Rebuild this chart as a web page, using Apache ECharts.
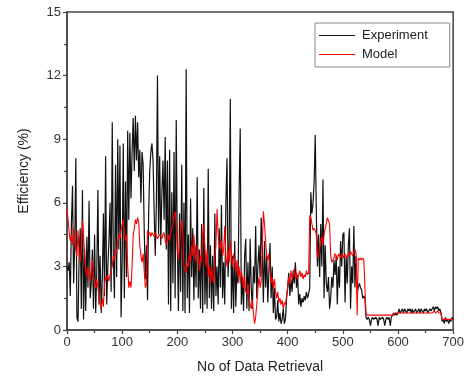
<!DOCTYPE html>
<html><head><meta charset="utf-8">
<script src="https://cdn.jsdelivr.net/npm/echarts@6/dist/echarts.min.js"></script>
<style>html,body{margin:0;padding:0;background:#fff}#c{width:467px;height:379px}</style>
</head><body><div id="c"></div>
<script>
// sample spacing along "No of Data Retrieval"
var xStep = 2;
var experiment = [
3.0,2.8,3.2,1.6,5.0,6.8,2.2,4.0,8.1,0.6,
0.4,3.5,4.8,1.0,6.6,0.5,3.8,0.9,4.4,2.0,
6.1,1.5,2.2,3.8,1.0,4.5,0.8,2.8,6.6,1.2,
3.5,0.8,2.4,5.5,1.6,8.2,1.2,3.0,4.2,6.0,
1.8,9.8,3.5,1.5,7.8,2.5,9.0,3.8,8.7,0.6,
3.2,8.8,1.5,7.0,2.5,9.4,5.2,9.3,6.2,8.4,
10.0,7.5,10.1,8.0,9.8,7.2,8.5,6.0,8.4,7.8,
4.7,2.4,4.0,1.4,5.5,7.5,8.4,8.8,8.0,5.6,
3.5,6.0,12.0,4.5,8.2,4.0,6.5,8.0,5.2,9.1,
3.8,8.0,1.2,8.5,0.9,6.5,2.2,8.4,1.5,9.9,
4.0,0.9,5.5,1.8,7.8,0.9,6.0,0.8,12.3,1.5,
4.5,0.8,6.2,2.5,4.8,1.4,4.0,2.0,7.2,1.5,
3.8,1.0,5.0,0.8,6.7,1.2,3.5,1.0,7.6,1.5,
4.0,1.0,3.5,0.9,5.5,1.6,3.0,1.2,4.8,2.0,
5.9,1.5,3.2,1.2,6.0,8.1,2.5,4.0,10.9,1.0,
3.5,0.8,4.2,1.1,3.0,2.2,6.5,9.5,1.2,2.5,
0.9,3.5,4.3,1.0,3.2,0.9,4.3,2.0,1.0,3.0,
2.2,4.9,1.5,3.0,4.0,2.5,5.3,3.8,1.3,4.2,
2.0,3.5,1.3,2.8,4.1,1.5,3.0,0.8,2.0,0.5,
0.6,1.4,0.4,0.8,0.3,0.5,1.0,0.3,0.5,1.5,
2.0,2.7,1.6,2.4,1.8,2.8,2.2,3.2,2.0,2.6,
1.2,1.7,1.1,1.5,1.3,1.6,1.4,1.8,1.5,1.7,
2.0,6.5,5.5,6.0,7.0,9.2,5.5,3.0,4.5,2.5,
5.0,3.0,7.1,1.5,4.0,2.2,1.8,2.5,1.0,1.5,
2.5,2.0,3.3,2.6,3.5,1.2,3.0,2.0,4.2,3.0,
4.5,4.6,1.3,3.5,2.2,4.0,4.8,1.0,3.0,2.2,
4.9,2.0,3.5,1.8,2.0,2.2,2.0,1.9,1.5,1.6,
1.5,0.6,0.5,0.6,0.5,0.2,0.5,0.6,0.5,0.5,
0.6,0.5,0.2,0.6,0.5,0.5,0.6,0.5,0.2,0.5,
0.6,0.5,0.6,0.2,0.6,0.7,0.8,0.7,0.8,0.7,
0.8,1.0,0.8,0.9,1.0,0.8,1.0,0.9,0.8,1.0,
0.9,1.0,0.8,1.0,0.8,0.9,1.0,0.8,0.9,1.0,
0.8,1.0,0.9,0.8,1.0,0.9,1.0,0.8,0.9,1.0,
0.9,1.0,1.1,0.9,1.1,1.0,1.1,0.9,1.0,0.8,
0.4,0.5,0.3,0.6,0.4,0.5,0.3,0.5,0.4,0.6,
0.5
];
var model = [
5.7,5.2,4.6,4.2,4.5,4.0,4.8,4.3,3.8,3.5,
4.7,3.6,3.2,3.8,5.2,4.5,3.5,2.8,2.5,3.0,
2.6,2.3,2.8,3.3,2.5,2.2,2.0,2.4,2.0,1.6,
1.2,1.0,1.5,1.1,2.2,2.5,2.4,2.6,2.3,2.6,
2.8,3.0,3.5,3.3,3.8,3.6,4.2,4.5,4.3,4.7,
5.0,5.2,4.6,4.2,4.5,3.0,2.0,2.3,2.0,3.0,
4.5,4.8,5.2,5.0,5.3,5.1,4.0,3.5,3.2,3.6,
2.8,2.0,2.2,4.7,4.5,4.6,4.4,4.6,4.5,4.4,
4.6,4.5,4.3,4.4,4.5,4.4,4.3,4.5,4.6,4.2,
4.0,4.3,4.5,4.2,4.6,4.8,5.0,5.4,5.6,5.0,
3.8,3.3,4.0,4.8,5.2,4.5,3.0,2.8,2.7,3.2,
3.0,3.6,3.2,4.0,3.5,4.5,3.8,3.2,4.0,3.5,
2.8,3.5,3.2,4.5,5.0,4.0,3.0,3.8,2.5,3.0,
2.2,3.0,2.5,2.2,3.5,4.0,5.7,4.5,4.0,3.8,
4.2,3.5,3.8,4.9,3.5,3.0,3.8,3.2,4.2,3.5,
3.0,3.6,3.2,2.8,3.3,2.5,3.0,2.2,2.8,2.4,
2.0,2.5,1.8,1.7,2.2,1.5,1.2,1.0,1.4,0.8,
0.3,0.6,1.2,1.9,2.5,2.0,2.3,4.0,5.6,5.0,
4.2,3.5,3.3,3.6,2.8,2.2,2.5,2.0,2.4,1.8,
1.5,1.8,1.3,1.5,1.2,1.4,1.0,1.3,1.2,1.6,
2.0,2.5,2.2,2.8,2.4,2.6,2.9,2.5,2.7,2.4,
2.6,2.8,2.5,2.7,2.4,2.6,2.5,2.8,2.6,2.7,
5.4,5.3,5.0,4.7,4.8,4.7,4.5,3.4,3.5,3.8,
4.2,4.4,4.0,4.5,4.8,5.0,5.3,5.3,5.0,3.5,
3.2,3.3,3.4,3.6,3.5,3.3,3.6,3.5,3.4,3.6,
3.5,3.4,3.6,3.5,3.4,3.6,3.5,3.7,3.6,3.5,
3.7,3.8,3.6,0.7,3.4,3.3,3.4,3.3,3.4,3.3,
3.3,0.8,0.7,0.7,0.7,0.7,0.7,0.7,0.7,0.7,
0.7,0.7,0.7,0.7,0.7,0.7,0.7,0.7,0.7,0.7,
0.7,0.7,0.7,0.7,0.7,0.7,0.7,0.8,0.8,0.8,
0.8,0.8,0.8,0.8,0.8,0.8,0.8,0.8,0.8,0.8,
0.8,0.8,0.8,0.8,0.8,0.8,0.8,0.8,0.8,0.8,
0.8,0.8,0.8,0.8,0.8,0.8,0.8,0.8,0.8,0.8,
0.8,0.8,0.8,0.9,0.8,0.8,0.9,0.8,0.8,0.8,
0.5,0.5,0.5,0.5,0.5,0.5,0.5,0.5,0.5,0.5,
0.5
];
var seriesNames = ['Experiment', 'Model'];
var seriesColors = ['#111111', '#ff0000'];
var xTitle = 'No of Data Retrieval';
var yTitle = 'Efficiency (%)';

function pairs(arr){ return arr.map(function(v,i){ return [i*xStep, v]; }); }

var chart = echarts.init(document.getElementById('c'), null, {renderer:'canvas'});
var font = 'Liberation Sans, Arial, sans-serif';
chart.setOption({
  animation:false,
  backgroundColor:'#fff',
  grid:{left:67,right:7,top:12,bottom:49,show:true,borderColor:'#444',borderWidth:1.5,backgroundColor:'transparent'},
  legend:{
    orient:'vertical', left:315, top:23,
    data:seriesNames.map(function(n,i){ return {name:n, itemStyle:{color:seriesColors[i]}}; }),
    icon:'rect', itemWidth:36, itemHeight:1, itemGap:6,
    borderColor:'#888', borderWidth:1, padding:[6,22,6,4],
    textStyle:{fontFamily:font,fontSize:13,color:'#222',padding:[0,0,0,2]}
  },
  xAxis:{
    type:'value', min:0, max:700, interval:100,
    name:xTitle, nameLocation:'middle', nameGap:30,
    nameTextStyle:{fontFamily:font,fontSize:14,color:'#222'},
    axisLine:{show:true,lineStyle:{color:'#444',width:1.5}},
    axisTick:{show:true,length:4,lineStyle:{color:'#444',width:1.2}},
    minorTick:{show:true,splitNumber:2,length:3,lineStyle:{color:'#444',width:1.2}},
    axisLabel:{fontFamily:font,fontSize:13,color:'#333',margin:6},
    splitLine:{show:false}
  },
  yAxis:{
    type:'value', min:0, max:15, interval:3,
    name:yTitle, nameLocation:'middle', nameGap:36,
    nameTextStyle:{fontFamily:font,fontSize:14,color:'#222'},
    axisLine:{show:true,lineStyle:{color:'#444',width:1.5}},
    axisTick:{show:true,length:4,lineStyle:{color:'#444',width:1.2}},
    minorTick:{show:true,splitNumber:2,length:3,lineStyle:{color:'#444',width:1.2}},
    axisLabel:{fontFamily:font,fontSize:13,color:'#333',margin:6},
    splitLine:{show:false}
  },
  series:[
    {name:seriesNames[0], type:'line', data:pairs(experiment), symbol:'none',
     lineStyle:{color:seriesColors[0],width:1.2}, itemStyle:{color:seriesColors[0]}},
    {name:seriesNames[1], type:'line', data:pairs(model), symbol:'none',
     lineStyle:{color:seriesColors[1],width:1.1}, itemStyle:{color:seriesColors[1]}}
  ]
});
</script></body></html>
